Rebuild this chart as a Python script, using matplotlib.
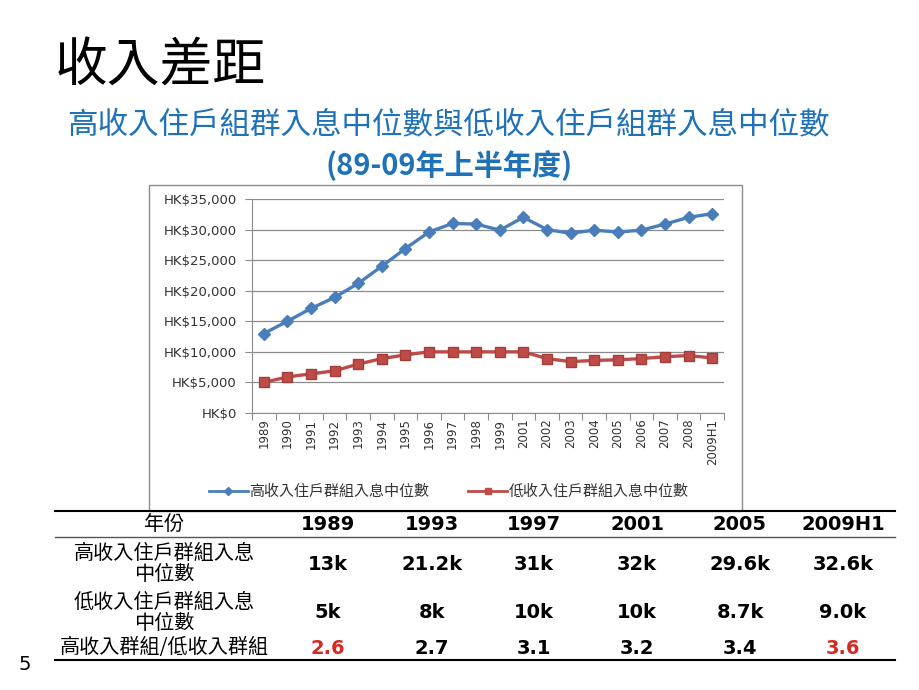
import matplotlib
matplotlib.use("Agg")
import matplotlib.pyplot as plt
from matplotlib.patches import Rectangle
from matplotlib.lines import Line2D
from matplotlib.ticker import FuncFormatter, FixedLocator

plt.rcParams['font.family'] = ['Noto Sans CJK TC', 'DejaVu Sans']

# ---------------- data ----------------
years = ["1989", "1990", "1991", "1992", "1993", "1994", "1995", "1996", "1997", "1998",
         "1999", "2001", "2002", "2003", "2004", "2005", "2006", "2007", "2008", "2009H1"]
high_income = [13000, 15000, 17100, 18900, 21200, 24000, 26900, 29600, 31000, 30900,
               29900, 32000, 30000, 29400, 29900, 29600, 29900, 30900, 32000, 32600]
low_income = [5000, 5900, 6400, 6900, 8000, 8900, 9500, 10000, 10000, 10000,
              10000, 10000, 8900, 8400, 8600, 8700, 8900, 9200, 9400, 9000]
series_names = ["高收入住戶群組入息中位數", "低收入住戶群組入息中位數"]

table_header = "年份"
table_years = ["1989", "1993", "1997", "2001", "2005", "2009H1"]
table_high = ["13k", "21.2k", "31k", "32k", "29.6k", "32.6k"]
table_low = ["5k", "8k", "10k", "10k", "8.7k", "9.0k"]
table_ratio = ["2.6", "2.7", "3.1", "3.2", "3.4", "3.6"]
row_labels = ["高收入住戶群組入息\n中位數", "低收入住戶群組入息\n中位數", "高收入群組/低收入群組"]
highlight_ratio = [True, False, False, False, False, True]

title = "收入差距"
subtitle1 = "高收入住戶組群入息中位數與低收入住戶組群入息中位數"
subtitle2 = "(89-09年上半年度)"

# ---------------- figure ----------------
W, H = 920, 690
fig = plt.figure(figsize=(W / 100, H / 100), dpi=100)
fig.patch.set_facecolor("white")


def P(x, y):
    return x / W, 1 - y / H


BLUE = "#4A7EBB"
RED = "#BE4B48"
TITLE_BLUE = "#1F72B8"

# titles
fig.text(*P(55, 66), title, fontsize=38, color="black", ha="left", va="center")
fig.text(*P(448, 125), subtitle1, fontsize=22, color=TITLE_BLUE, ha="center", va="center")
fig.text(*P(449, 166), subtitle2, fontsize=21, color=TITLE_BLUE, ha="center", va="center",
         fontweight="bold")

# chart border box
fig.patches.append(Rectangle(P(149, 511), (742 - 149) / W, (511 - 185) / H,
                             transform=fig.transFigure, fill=False, edgecolor="#8C8C8C",
                             linewidth=1.0, zorder=0))

# axes
ax_l, ax_r, ax_t, ax_b = 252, 724, 199, 413
ax = fig.add_axes([ax_l / W, 1 - ax_b / H, (ax_r - ax_l) / W, (ax_b - ax_t) / H])
x = list(range(len(years)))
ax.plot(x, high_income, color=BLUE, lw=2.4, marker="D", markersize=6,
        markerfacecolor=BLUE, markeredgecolor=BLUE, zorder=3)
ax.plot(x, low_income, color=RED, lw=2.4, marker="s", markersize=7.5,
        markerfacecolor=RED, markeredgecolor="#A33E3B", zorder=3)
ax.set_xlim(-0.5, len(years) - 0.5)
ax.set_ylim(0, 35000)
ax.set_yticks(range(0, 35001, 5000))
ax.yaxis.set_major_formatter(FuncFormatter(lambda v, p: "HK\\$" + format(int(v), ",")))
ax.grid(axis="y", color="#8C8C8C", lw=0.9)
ax.set_axisbelow(True)
ax.xaxis.set_major_locator(FixedLocator([i - 0.5 for i in range(len(years) + 1)]))
ax.xaxis.set_minor_locator(FixedLocator(x))
ax.set_xticklabels([""] * (len(years) + 1))
ax.set_xticklabels(years, minor=True, rotation=90, fontsize=8.5, family="DejaVu Sans",
                   color="#333333")
ax.tick_params(axis="x", which="major", length=5, color="#8C8C8C", direction="out")
ax.tick_params(axis="x", which="minor", length=0, pad=4)
ax.tick_params(axis="y", length=5, color="#8C8C8C", labelsize=9.5, labelcolor="#333333", pad=6)
for lab in ax.get_yticklabels():
    lab.set_family("DejaVu Sans")
for s in ["top", "right"]:
    ax.spines[s].set_visible(False)
for s in ["left", "bottom"]:
    ax.spines[s].set_color("#8C8C8C")

# legend
handles = [Line2D([], [], color=BLUE, lw=2, marker="D", markersize=4),
           Line2D([], [], color=RED, lw=2, marker="s", markersize=5)]
fig.legend(handles, series_names, loc="center", bbox_to_anchor=P(449, 492), ncol=2,
           frameon=False, fontsize=10.8, handlelength=2.6, handletextpad=0.1,
           columnspacing=2.6, labelcolor="#333333")

# table
tx0, tx1 = 55, 895
fig.add_artist(Line2D([tx0 / W, tx1 / W], [1 - 511 / H] * 2, color="black", lw=1.5))
fig.add_artist(Line2D([tx0 / W, tx1 / W], [1 - 537 / H] * 2, color="#555555", lw=1.0))
fig.add_artist(Line2D([tx0 / W, tx1 / W], [1 - 660 / H] * 2, color="black", lw=1.5))

label_cx = 164
col_cx = [328, 432, 534, 637, 740, 843]
row_cy = [525, 564, 613, 648]

fig.text(*P(label_cx, row_cy[0]), table_header, fontsize=14.5, ha="center", va="center")
for i, lab in enumerate(row_labels):
    fig.text(*P(label_cx, row_cy[i + 1]), lab, fontsize=14.5, ha="center", va="center",
             linespacing=0.95)

rows = [table_years, table_high, table_low, table_ratio]
for r, vals in enumerate(rows):
    for c, v in enumerate(vals):
        color = "black"
        if r == 3 and highlight_ratio[c]:
            color = "#D42A24"
        fig.text(*P(col_cx[c], row_cy[r]), v, fontsize=14, fontweight="bold",
                 family="DejaVu Sans", ha="center", va="center", color=color)

# page number
fig.text(*P(25, 665), "5", fontsize=14, ha="center", va="center", family="DejaVu Sans")

fig.savefig("out.png", dpi=100)
